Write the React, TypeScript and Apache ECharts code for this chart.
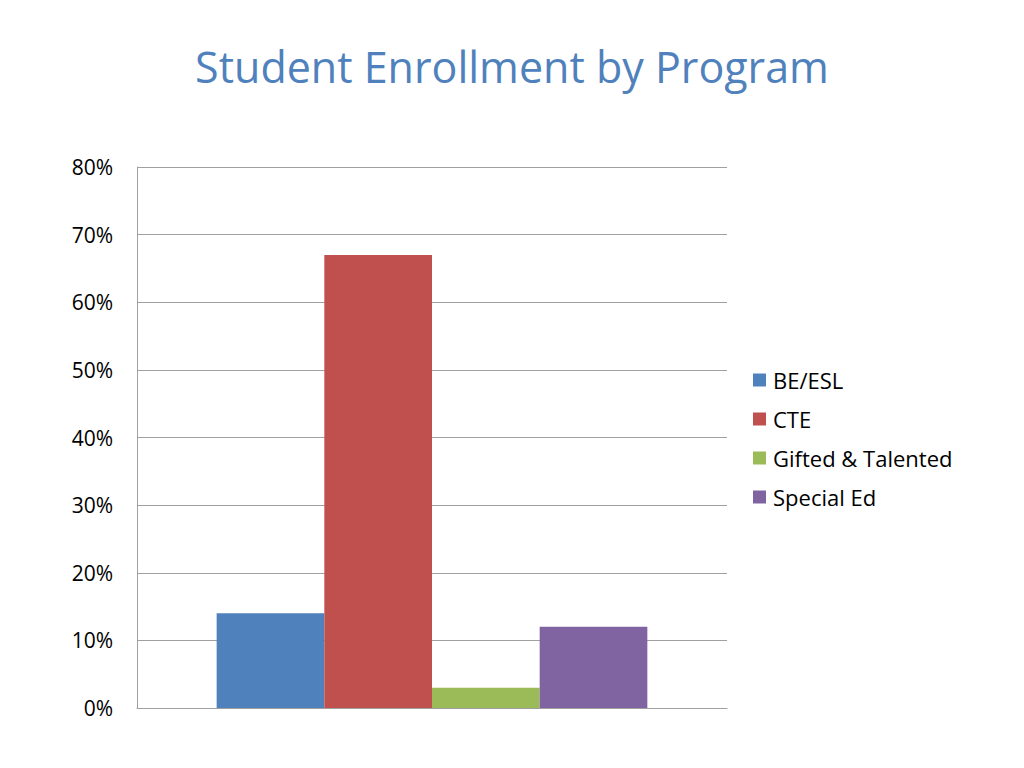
import React, { useEffect, useRef } from "react";
import * as echarts from "echarts";

const categorias = [""];
const programas = ["BE/ESL", "CTE", "Gifted & Talented", "Special Ed"];
const valores = [14, 67, 3, 12];
const colores = ["#4F81BD", "#C0504D", "#9BBB59", "#8064A2"];

const FONT = "'Open Sans', 'Noto Sans', sans-serif";

const App: React.FC = () => {
  const chartRef = useRef<HTMLDivElement | null>(null);

  useEffect(() => {
    if (!chartRef.current) return;
    document.body.style.margin = "0";
    const chart = echarts.init(chartRef.current, undefined, { renderer: "svg" });

    const option: echarts.EChartsOption = {
      animation: false,
      backgroundColor: "#ffffff",
      title: {
        text: "Student Enrollment by Program",
        left: "center",
        top: 40,
        textStyle: {
          color: "#4F81BD",
          fontSize: 43,
          fontWeight: "normal",
          fontFamily: FONT,
        },
      },
      legend: {
        orient: "vertical",
        left: 753,
        top: 369,
        padding: 0,
        icon: "rect",
        itemWidth: 13,
        itemHeight: 13,
        itemGap: 17,
        data: programas,
        textStyle: {
          color: "#000",
          fontSize: 22,
          fontFamily: FONT,
          lineHeight: 22,
          padding: [0, 0, 0, 2],
        },
      },
      grid: { left: 137, right: 297, top: 167, bottom: 60 },
      xAxis: {
        type: "category",
        data: categorias,
        axisLabel: { show: false },
        axisTick: { show: false },
        axisLine: { lineStyle: { color: "#a0a0a0", width: 1 } },
      },
      yAxis: {
        type: "value",
        min: 0,
        max: 80,
        interval: 10,
        axisLabel: {
          formatter: "{value}%",
          color: "#000",
          fontSize: 21,
          fontFamily: FONT,
          margin: 24,
        },
        axisTick: { show: false },
        axisLine: { show: true, lineStyle: { color: "#a0a0a0", width: 1 } },
        splitLine: { lineStyle: { color: "#a0a0a0", width: 1 } },
      },
      series: programas.map((nombre, i) => ({
        name: nombre,
        type: "bar" as const,
        data: [valores[i]],
        barGap: "0%",
        barCategoryGap: "27%",
        itemStyle: { color: colores[i] },
      })),
    };

    chart.setOption(option);
    return () => {
      chart.dispose();
    };
  }, []);

  return <div ref={chartRef} style={{ width: "1024px", height: "768px" }} />;
};

export default App;
